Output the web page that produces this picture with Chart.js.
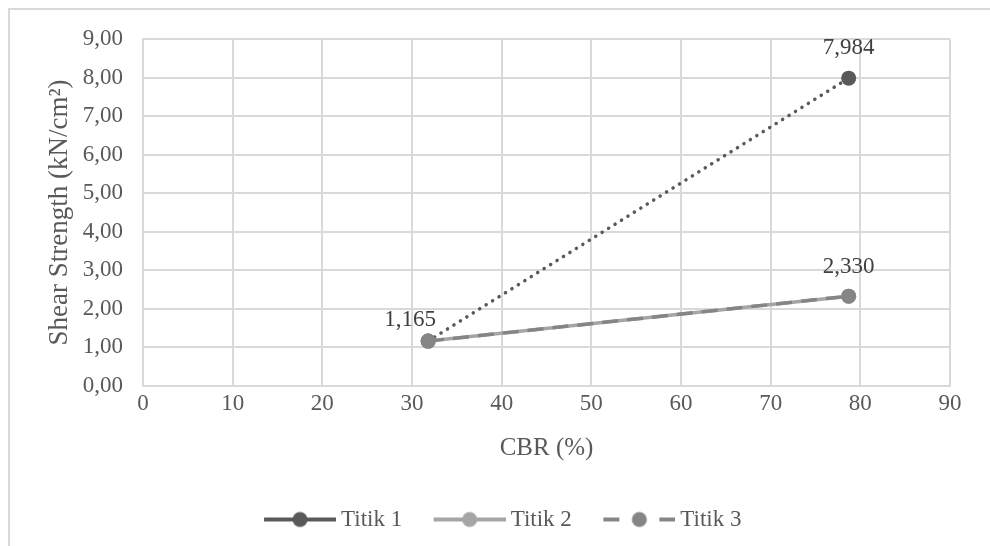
<!DOCTYPE html>
<html>
<head>
<meta charset="utf-8">
<script src="https://cdn.jsdelivr.net/npm/chart.js@4/dist/chart.umd.min.js"></script>
<style>
    html, body { margin: 0; padding: 0; background: #fff; overflow: hidden; }
    #frame { position: absolute; left: 8px; top: 8px; width: 1100px; height: 700px;
             border-left: 2px solid #d9d9d9; border-top: 2px solid #d9d9d9; }
    #wrap { position: absolute; left: 0; top: 0; width: 990px; height: 546px; }
</style>
</head>
<body>
<div id="frame"></div>
<div id="wrap"><canvas id="chart" width="990" height="546"></canvas></div>
<script>
// data
const cbr = [31.8, 78.7];                 // CBR (%)
const titik1 = [1.165, 7.984];            // shear strength, kN/cm2
const titik2 = [1.165, 2.330];
const titik3 = [1.165, 2.330];
const seriesNames = ['Titik 1', 'Titik 2', 'Titik 3'];
const xTicks = [0, 10, 20, 30, 40, 50, 60, 70, 80, 90];
const yTicks = [0, 1, 2, 3, 4, 5, 6, 7, 8, 9];

const serif = '"Liberation Serif", "Times New Roman", serif';
const textColor = '#595959';
const gridColor = '#d9d9d9';
const colors = ['#595959', '#a5a5a5', '#858585'];

function toPoints(values) {
    return values.map((v, i) => ({ x: cbr[i], y: v }));
}

function comma(v, digits) {
    return v.toFixed(digits).replace('.', ',');
}

// line + marker pictures for the legend, drawn in the right part of the canvas
function legendIcon(color, dash) {
    const c = document.createElement('canvas');
    c.width = 100;
    c.height = 18;
    const g = c.getContext('2d');
    g.strokeStyle = color;
    g.lineWidth = 4;
    g.setLineDash(dash);
    g.beginPath();
    g.moveTo(28, 9);
    g.lineTo(100, 9);
    g.stroke();
    g.fillStyle = color;
    g.beginPath();
    g.arc(64, 9, 7.5, 0, Math.PI * 2);
    g.fill();
    return c;
}
const icons = [
    legendIcon(colors[0], []),
    legendIcon(colors[1], []),
    legendIcon(colors[2], [16, 40, 16])
];

// value labels above the points
const valueLabels = {
    id: 'valueLabels',
    afterDatasetsDraw(chart) {
        const ctx = chart.ctx;
        ctx.save();
        ctx.font = '23px ' + serif;
        ctx.fillStyle = '#404040';
        ctx.textAlign = 'center';
        ctx.textBaseline = 'middle';
        chart.data.datasets.forEach((ds, i) => {
            if (!ds.labelShift) return;
            chart.getDatasetMeta(i).data.forEach((pt, j) => {
                const sh = ds.labelShift[j];
                if (!sh) return;
                ctx.fillText(comma(ds.data[j].y, 3), pt.x + sh[0], pt.y + sh[1]);
            });
        });
        ctx.restore();
    }
};

const ctx = document.getElementById('chart').getContext('2d');
const chart = new Chart(ctx, {
    type: 'scatter',
    data: {
        datasets: [
            {
                label: seriesNames[0],
                data: toPoints(titik1),
                order: 2,
                showLine: true,
                borderColor: colors[0],
                backgroundColor: colors[0],
                borderWidth: 3.5,
                borderDash: [0.1, 7.5],
                borderCapStyle: 'round',
                pointRadius: 7.5,
                pointBorderWidth: 0,
                labelShift: [[-18, -21], [0, -30]]
            },
            {
                label: seriesNames[1],
                data: toPoints(titik2),
                order: 1,
                showLine: true,
                borderColor: colors[1],
                backgroundColor: colors[1],
                borderWidth: 3.5,
                pointRadius: 7.5,
                pointBorderWidth: 0
            },
            {
                label: seriesNames[2],
                data: toPoints(titik3),
                order: 0,
                showLine: true,
                borderColor: colors[2],
                backgroundColor: colors[2],
                borderWidth: 3.5,
                borderDash: [16, 9],
                pointRadius: 7.5,
                pointBorderWidth: 0,
                labelShift: [null, [0, -29]]
            }
        ]
    },
    options: {
        responsive: false,
        animation: false,
        devicePixelRatio: 1,
        layout: { padding: { left: 34, right: 40, top: 39, bottom: 5 } },
        plugins: {
            tooltip: { enabled: false },
            legend: {
                position: 'bottom',
                labels: {
                    usePointStyle: true,
                    pointStyleWidth: 87,
                    boxHeight: 18,
                    padding: 10,
                    color: textColor,
                    font: { family: serif, size: 23 },
                    sort: (a, b) => a.datasetIndex - b.datasetIndex,
                    generateLabels(chart) {
                        return Chart.defaults.plugins.legend.labels.generateLabels(chart)
                            .map(l => Object.assign(l, { pointStyle: icons[l.datasetIndex] }));
                    }
                }
            }
        },
        scales: {
            x: {
                type: 'linear',
                min: xTicks[0],
                max: xTicks[xTicks.length - 1],
                afterBuildTicks(scale) { scale.ticks = xTicks.map(v => ({ value: v })); },
                afterFit(scale) { scale.height = 112; },
                ticks: {
                    color: textColor,
                    font: { family: serif, size: 23 },
                    padding: 4
                },
                grid: { color: gridColor, lineWidth: 2, drawTicks: false },
                border: { color: gridColor, width: 2 },
                title: {
                    display: true,
                    text: 'CBR (%)',
                    color: textColor,
                    font: { family: serif, size: 25 },
                    padding: { top: 0, bottom: 35 }
                }
            },
            y: {
                type: 'linear',
                min: yTicks[0],
                max: yTicks[yTicks.length - 1],
                afterBuildTicks(scale) { scale.ticks = yTicks.map(v => ({ value: v })); },
                afterFit(scale) { scale.width = 109; },
                ticks: {
                    color: textColor,
                    font: { family: serif, size: 23 },
                    padding: 20,
                    callback: v => comma(v, 2)
                },
                grid: { color: gridColor, lineWidth: 2, drawTicks: false },
                border: { color: gridColor, width: 2 },
                title: {
                    display: true,
                    text: 'Shear Strength (kN/cm²)',
                    color: textColor,
                    font: { family: serif, size: 27 },
                    padding: { top: 10, bottom: 0 }
                }
            }
        }
    },
    plugins: [valueLabels]
});
</script>
</body>
</html>
